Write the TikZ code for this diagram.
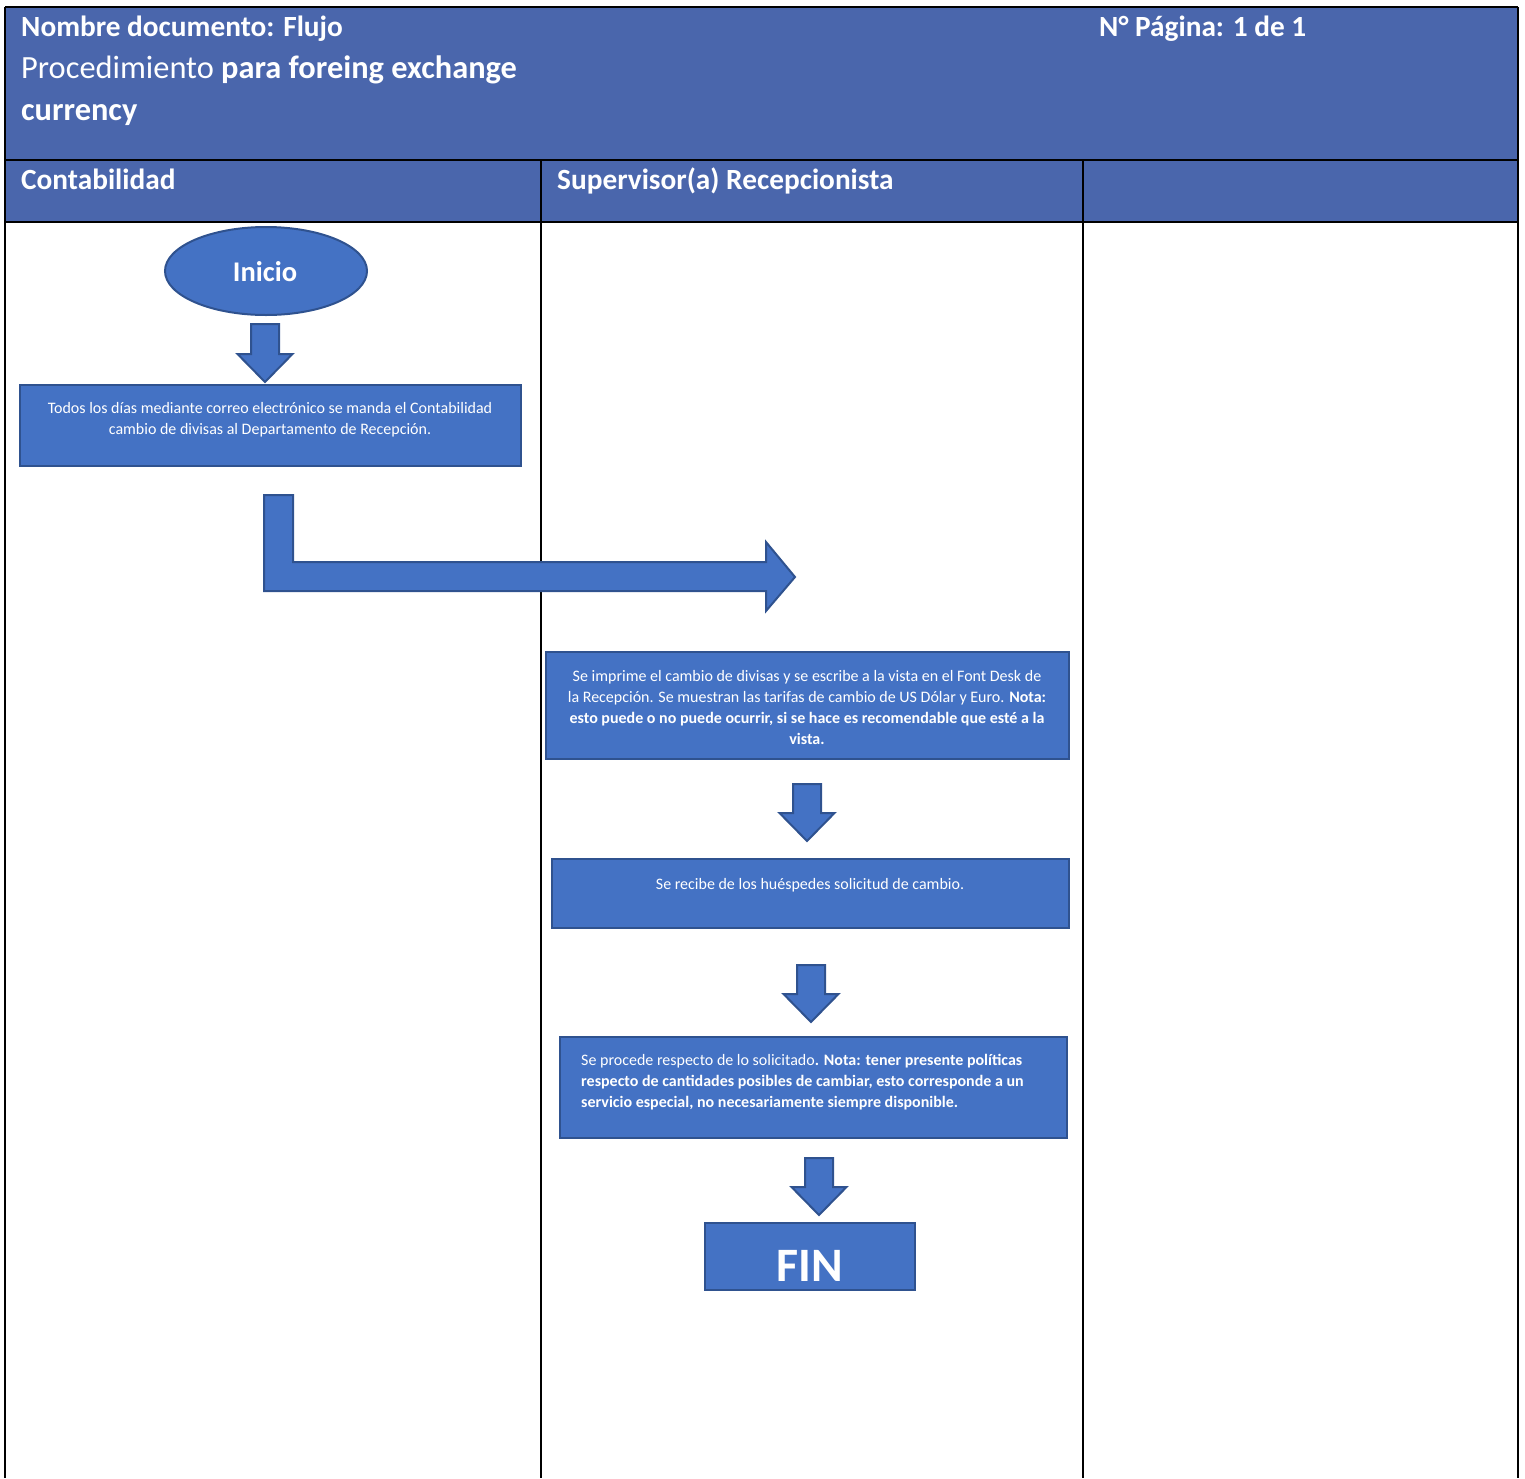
\documentclass[tikz,border=0pt]{standalone}
\usepackage{fontspec}
\setmainfont{Carlito}
\usetikzlibrary{shapes.geometric}

\definecolor{hdrblue}{HTML}{4A66AC}
\definecolor{shapefill}{HTML}{4472C4}
\definecolor{shapeline}{HTML}{2F528F}

\tikzset{
  grid/.style={line width=2pt, black},
  hdrtext/.style={text=white, inner sep=0pt, font=\fontsize{29.3}{34}\selectfont},
  titletext/.style={text=white, inner sep=0pt, font=\fontsize{32.4}{38}\selectfont},
  blk/.style={fill=shapefill, draw=shapeline, line width=2pt, line join=miter},
  boxtext/.style={text=white, inner sep=0pt, font=\fontsize{16}{21}\selectfont},
  procbox/.style={blk, rectangle, inner sep=0pt, anchor=north west},
}

% vertical block arrow: centre x, top y, tip y
\newcommand{\downblock}[3]{%
  \draw[blk] (#1-14,#2) -- (#1+14,#2) -- (#1+14,#3-28) -- (#1+27.5,#3-28)
    -- (#1,#3) -- (#1-27.5,#3-28) -- (#1-14,#3-28) -- cycle;}

\begin{document}
\begin{tikzpicture}[x=1pt, y=-1pt]
\useasboundingbox (0,0) rectangle (1525,1478);

% table heading bands
\fill[hdrblue] (5,7) rectangle (1518,222);

% table rules
\draw[grid] (5,7) -- (1518,7);
\draw[grid] (5,160) -- (1518,160);
\draw[grid] (5,222) -- (1518,222);
\draw[grid] (5,7) -- (5,1478);
\draw[grid] (1518,7) -- (1518,1478);
\draw[grid] (541,160) -- (541,1478);
\draw[grid] (1083,160) -- (1083,1478);

% document heading
\node[hdrtext, anchor=base west] (title1) at (21,36) {\bfseries Nombre documento: Flujo};
\node[titletext, anchor=base west] (title2) at (21,78) {Procedimiento \textbf{para foreing exchange}};
\node[titletext, anchor=base west] (title3) at (21,120) {\bfseries currency};
\node[hdrtext, anchor=base west] (page) at (1099,36) {\bfseries N° Página: 1 de 1};

% lane headings
\node[hdrtext, anchor=base west] (laneA) at (21,189) {\bfseries Contabilidad};
\node[hdrtext, anchor=base west] (laneB) at (557,189) {\bfseries Supervisor(a) Recepcionista};

% start
\node[blk, ellipse, minimum width=202, minimum height=88, inner sep=0pt] (start) at (266,271) {};
\node[text=white, inner sep=0pt, anchor=base, font=\fontsize{28.5}{32}\selectfont\bfseries] (startlbl) at (265,281) {Inicio};

\downblock{265}{324}{382}

% step 1
\node[procbox, minimum width=501, minimum height=81] (s1) at (19,384) {};
\node[boxtext, anchor=north, align=center] (s1t) at (270,398.5)
  {\strut Todos los días mediante correo electrónico se manda el Contabilidad\\
   cambio de divisas al Departamento de Recepción.};

% bent arrow across lanes
\draw[blk] (264,495) -- (293,495) -- (293,562) -- (766,562) -- (766,542)
  -- (795,577) -- (766,611) -- (766,591) -- (264,591) -- cycle;

% step 2
\node[procbox, minimum width=523, minimum height=107] (s2) at (545,651) {};
\node[boxtext, anchor=north, align=center] (s2t) at (807,666.5)
  {\strut Se imprime el cambio de divisas y se escribe a la vista en el Font Desk de\\
   la Recepción. Se muestran las tarifas de cambio de US Dólar y Euro. \textbf{Nota:}\\
   \textbf{esto puede o no puede ocurrir, si se hace es recomendable que esté a la}\\
   \textbf{vista.}};

\downblock{807}{784}{841}

% step 3
\node[procbox, minimum width=517, minimum height=69] (s3) at (551,858) {};
\node[boxtext, anchor=north, align=center] (s3t) at (810,874.5)
  {\strut Se recibe de los huéspedes solicitud de cambio.};

\downblock{811}{965}{1022}

% step 4
\node[procbox, minimum width=507, minimum height=101] (s4) at (559,1036) {};
\node[boxtext, anchor=north west, align=left] (s4t) at (581,1050.5)
  {\strut Se procede respecto de lo solicitado\textbf{. Nota: tener presente políticas}\\
   \textbf{respecto de cantidades posibles de cambiar, esto corresponde a un}\\
   \textbf{servicio especial, no necesariamente siempre disponible.}};

\downblock{819}{1158}{1215}

% end
\node[procbox, minimum width=210, minimum height=67] (finbox) at (704,1222) {};
\node[text=white, inner sep=0pt, anchor=base, font=\fontsize{48}{54}\selectfont\bfseries] (finlbl) at (810,1281) {FIN};

\end{tikzpicture}
\end{document}
